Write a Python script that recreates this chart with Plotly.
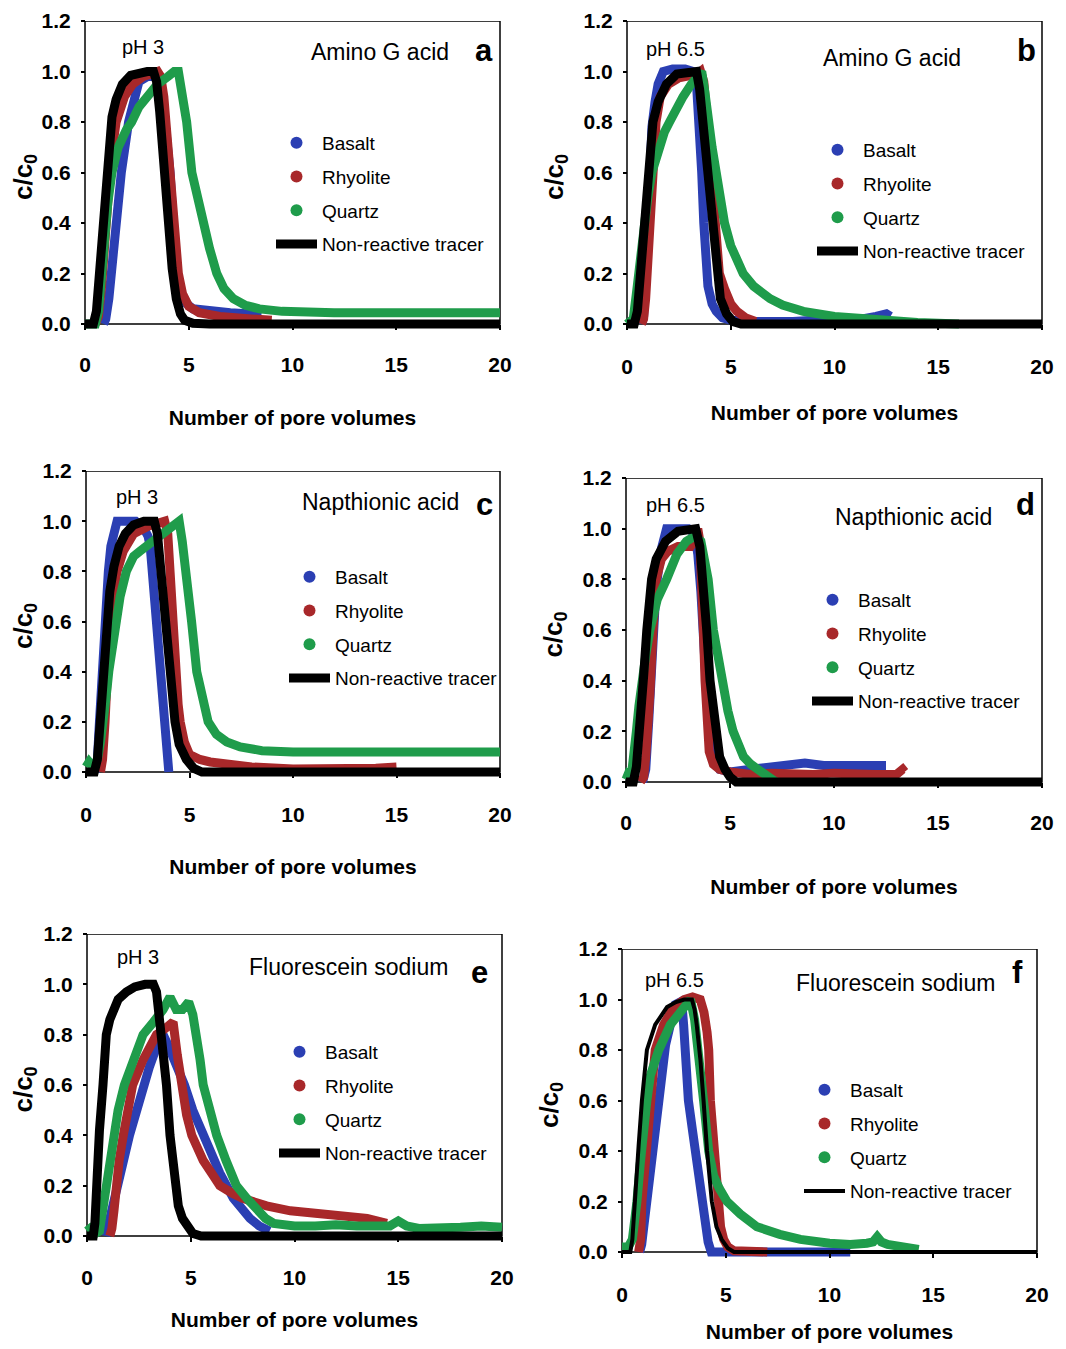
import plotly.graph_objects as go

# The page places the figure 8 px from the window's top-left corner.
OFF = 8
W, H = 1066 - OFF, 1349 - OFF

# ---------------- data ----------------
# Panel a : Amino G acid, pH 3
a_tracer_x = [0, 0.4, 0.55, 0.7, 0.85, 1.0, 1.15, 1.3, 1.5, 1.8, 2.2, 2.6, 3.0, 3.3, 3.45, 3.6, 3.8, 4.0, 4.2, 4.4, 4.6, 4.8, 5.2, 6, 20]
a_tracer_y = [0, 0, 0.05, 0.2, 0.42, 0.6, 0.72, 0.82, 0.89, 0.95, 0.985, 0.997, 1.0, 1.0, 0.96, 0.84, 0.62, 0.4, 0.22, 0.1, 0.04, 0.015, 0.003, 0, 0]
a_basalt_x = [0.9, 1.0, 1.15, 1.3, 1.5, 1.75, 2.1, 2.6, 3.0, 3.5, 3.7, 3.9, 4.1, 4.25, 4.4, 4.6, 4.9, 5.2, 6, 7, 8, 8.5]
a_basalt_y = [0, 0.02, 0.1, 0.25, 0.42, 0.6, 0.8, 0.96, 0.98, 0.98, 0.93, 0.8, 0.6, 0.4, 0.2, 0.12, 0.08, 0.06, 0.05, 0.045, 0.04, 0.035]
a_rhyolite_x = [0.5, 0.65, 0.8, 0.95, 1.1, 1.25, 1.5, 1.9, 2.3, 2.8, 3.2, 3.5, 3.65, 3.8, 3.95, 4.1, 4.3, 4.5, 4.7, 5.0, 5.5, 6.5, 8, 9]
a_rhyolite_y = [0, 0.03, 0.15, 0.35, 0.52, 0.65, 0.8, 0.9, 0.95, 0.98, 0.99, 1.0, 0.98, 0.9, 0.75, 0.6, 0.38, 0.2, 0.12, 0.07, 0.045, 0.03, 0.02, 0.015]
a_quartz_x = [0, 0.5, 0.65, 0.8, 0.95, 1.1, 1.3, 1.6, 2.0, 2.25, 2.6, 3.0, 3.5, 4.0, 4.3, 4.5, 4.7, 4.9, 5.15, 5.4, 5.7, 6.0, 6.35, 6.7, 7.15, 7.7, 8.4, 9.5, 12, 15, 18, 20]
a_quartz_y = [0, 0, 0.05, 0.2, 0.36, 0.48, 0.6, 0.7, 0.77, 0.8, 0.86, 0.9, 0.95, 0.98, 1.0, 1.0, 0.92, 0.8, 0.6, 0.5, 0.4, 0.3, 0.2, 0.14, 0.1, 0.075, 0.06, 0.05, 0.045, 0.045, 0.045, 0.045]

# Panel b : Amino G acid, pH 6.5
b_tracer_x = [0, 0.35, 0.5, 0.65, 0.8, 0.95, 1.1, 1.25, 1.5, 1.9, 2.4, 3.0, 3.35, 3.5, 3.65, 3.8, 3.95, 4.1, 4.3, 4.5, 4.8, 5.1, 5.5, 20]
b_tracer_y = [0, 0, 0.05, 0.2, 0.42, 0.6, 0.72, 0.8, 0.88, 0.95, 0.99, 1.0, 1.0, 0.93, 0.8, 0.66, 0.52, 0.38, 0.2, 0.1, 0.04, 0.01, 0, 0]
b_basalt_x = [0.7, 0.8, 0.9, 1.0, 1.1, 1.2, 1.35, 1.5, 1.75, 2.2, 2.8, 3.2, 3.35, 3.5, 3.6, 3.7, 3.8, 3.9, 4.1, 4.3, 4.6, 5.0, 6, 8, 10, 11, 12, 12.5, 12.7]
b_basalt_y = [0, 0.03, 0.2, 0.5, 0.65, 0.78, 0.88, 0.95, 1.0, 1.01, 1.01, 1.0, 0.95, 0.8, 0.6, 0.4, 0.25, 0.15, 0.08, 0.05, 0.025, 0.015, 0.01, 0.01, 0.02, 0.015, 0.03, 0.04, 0.03]
b_rhyolite_x = [0.7, 0.8, 0.9, 1.0, 1.1, 1.25, 1.4, 1.6, 2.0, 2.5, 3.0, 3.4, 3.55, 3.7, 3.85, 4.05, 4.25, 4.45, 4.7, 5.0, 5.3, 5.7, 6.2]
b_rhyolite_y = [0, 0.02, 0.1, 0.25, 0.4, 0.6, 0.8, 0.9, 0.95, 0.975, 0.98, 0.99, 1.0, 0.96, 0.82, 0.6, 0.38, 0.2, 0.14, 0.08, 0.05, 0.025, 0.01]
b_quartz_x = [0, 0.3, 0.45, 0.55, 0.7, 0.8, 1.0, 1.2, 1.5, 1.8, 2.05, 2.4, 2.7, 3.1, 3.4, 3.6, 3.75, 3.9, 4.1, 4.3, 4.5, 4.7, 5.0, 5.3, 5.6, 6.1, 6.5, 6.9, 7.5, 8.5, 10, 12, 14, 16]
b_quartz_y = [0, 0.02, 0.12, 0.2, 0.32, 0.4, 0.5, 0.6, 0.69, 0.76, 0.8, 0.86, 0.9, 0.95, 0.98, 1.0, 0.92, 0.8, 0.7, 0.6, 0.5, 0.4, 0.31, 0.25, 0.2, 0.15, 0.12, 0.1, 0.075, 0.05, 0.03, 0.015, 0.006, 0.0]

# Panel c : Napthionic acid, pH 3
c_tracer_x = [0, 0.4, 0.55, 0.7, 0.85, 1.0, 1.15, 1.35, 1.6, 1.9, 2.3, 2.8, 3.3, 3.45, 3.6, 3.8, 4.0, 4.15, 4.3, 4.5, 4.85, 5.2, 5.6, 20]
c_tracer_y = [0, 0, 0.05, 0.2, 0.42, 0.6, 0.72, 0.82, 0.9, 0.95, 0.985, 1.0, 1.0, 0.95, 0.82, 0.6, 0.42, 0.3, 0.2, 0.11, 0.05, 0.015, 0, 0]
c_basalt_x = [0.45, 0.55, 0.65, 0.75, 0.85, 0.92, 1.0, 1.08, 1.2, 1.35, 1.5, 2.0, 2.4, 2.8, 3.0, 3.1, 3.2, 3.35, 3.5, 3.65, 3.75, 3.85, 4.0]
c_basalt_y = [0, 0.05, 0.2, 0.38, 0.52, 0.6, 0.7, 0.8, 0.9, 0.96, 1.0, 1.0, 1.0, 0.97, 0.94, 0.9, 0.8, 0.6, 0.42, 0.27, 0.2, 0.1, 0.0]
c_rhyolite_x = [0.7, 0.8, 0.92, 1.05, 1.15, 1.3, 1.5, 1.8, 2.3, 3.0, 3.5, 3.8, 3.95, 4.05, 4.15, 4.3, 4.45, 4.55, 4.75, 5.0, 5.5, 6.0, 7.0, 8.0, 10, 12, 14, 15]
c_rhyolite_y = [0, 0.05, 0.2, 0.45, 0.6, 0.7, 0.8, 0.88, 0.95, 0.98, 0.99, 1.0, 0.95, 0.8, 0.6, 0.4, 0.27, 0.2, 0.12, 0.07, 0.05, 0.04, 0.03, 0.02, 0.012, 0.01, 0.015, 0.02]
c_quartz_x = [0, 0.15, 0.35, 0.55, 0.7, 0.85, 1.0, 1.1, 1.25, 1.4, 1.65, 1.95, 2.3, 2.6, 3.2, 3.8, 4.2, 4.5, 4.65, 4.85, 5.1, 5.35, 5.6, 5.9, 6.3, 6.8, 7.45, 8.5, 10, 12, 14, 16, 18, 20]
c_quartz_y = [0.02, 0.04, 0.02, 0.05, 0.12, 0.2, 0.32, 0.4, 0.5, 0.6, 0.7, 0.8, 0.86, 0.88, 0.92, 0.95, 0.98, 1.0, 0.92, 0.8, 0.6, 0.4, 0.3, 0.2, 0.15, 0.12, 0.1, 0.085, 0.08, 0.08, 0.08, 0.085, 0.085, 0.08]

# Panel d : Napthionic acid, pH 6.5
d_tracer_x = [0, 0.35, 0.5, 0.67, 0.85, 1.0, 1.12, 1.23, 1.45, 1.9, 2.5, 3.0, 3.35, 3.55, 3.72, 3.88, 4.04, 4.28, 4.5, 4.76, 5.0, 5.3, 20]
d_tracer_y = [0, 0, 0.06, 0.2, 0.42, 0.6, 0.72, 0.8, 0.88, 0.95, 0.99, 1.0, 1.0, 0.93, 0.8, 0.6, 0.4, 0.2, 0.1, 0.05, 0.02, 0, 0]
d_basalt_x = [0.8, 0.95, 1.1, 1.2, 1.3, 1.4, 1.5, 1.7, 1.95, 2.5, 3.0, 3.3, 3.45, 3.6, 3.7, 3.8, 3.95, 4.1, 4.3, 4.5, 5.0, 6.0, 7.0, 8.0, 8.6, 9.5, 10.5, 11.5, 12.3, 12.5]
d_basalt_y = [0, 0.05, 0.25, 0.45, 0.6, 0.7, 0.8, 0.92, 1.0, 1.0, 1.0, 0.98, 0.9, 0.75, 0.6, 0.4, 0.25, 0.15, 0.08, 0.05, 0.04, 0.05, 0.06, 0.065, 0.075, 0.065, 0.065, 0.065, 0.07, 0.065]
d_rhyolite_x = [0.7, 0.85, 0.95, 1.05, 1.15, 1.3, 1.45, 1.7, 2.0, 2.5, 3.1, 3.35, 3.45, 3.55, 3.65, 3.72, 3.8, 3.88, 4.0, 4.2, 4.5, 5.0, 6.0, 7.0, 8.0, 9.0, 10, 11, 12, 13, 13.3, 13.4]
d_rhyolite_y = [0, 0.02, 0.1, 0.2, 0.35, 0.6, 0.8, 0.88, 0.91, 0.93, 0.93, 0.96, 1.0, 0.95, 0.8, 0.6, 0.4, 0.2, 0.12, 0.07, 0.05, 0.04, 0.03, 0.035, 0.03, 0.03, 0.035, 0.03, 0.03, 0.03, 0.05, 0.04]
d_quartz_x = [0, 0.1, 0.25, 0.4, 0.5, 0.62, 0.75, 0.95, 1.15, 1.5, 1.95, 2.45, 2.9, 3.3, 3.6, 3.8, 3.95, 4.2, 4.4, 4.6, 4.9, 5.15, 5.4, 5.65, 6.0, 6.3, 6.6, 6.9, 7.2]
d_quartz_y = [0.01, 0.03, 0.02, 0.1, 0.2, 0.3, 0.4, 0.5, 0.6, 0.72, 0.8, 0.9, 0.95, 0.97, 0.95, 0.88, 0.8, 0.6, 0.5, 0.4, 0.28, 0.2, 0.14, 0.1, 0.07, 0.05, 0.03, 0.02, 0.0]

# Panel e : Fluorescein sodium, pH 3
e_tracer_x = [0, 0.3, 0.38, 0.45, 0.6, 0.77, 0.93, 1.1, 1.25, 1.5, 1.9, 2.3, 2.8, 3.2, 3.35, 3.45, 3.6, 3.83, 4.0, 4.23, 4.4, 4.6, 4.8, 5.1, 5.5, 20]
e_tracer_y = [0, 0, 0.05, 0.2, 0.42, 0.6, 0.8, 0.86, 0.9, 0.94, 0.97, 0.99, 1.0, 1.0, 0.97, 0.9, 0.78, 0.6, 0.4, 0.2, 0.12, 0.07, 0.04, 0.01, 0, 0]
e_basalt_x = [0.9, 1.1, 1.4, 1.7, 2.05, 2.4, 2.7, 3.0, 3.35, 3.67, 3.9, 4.23, 4.7, 5.1, 5.6, 6.0, 6.4, 7.05, 7.5, 7.85, 8.3, 8.8]
e_basalt_y = [0, 0.07, 0.2, 0.3, 0.4, 0.5, 0.6, 0.67, 0.75, 0.8, 0.76, 0.7, 0.6, 0.5, 0.4, 0.32, 0.25, 0.15, 0.1, 0.07, 0.04, 0.02]
e_rhyolite_x = [1.1, 1.2, 1.3, 1.4, 1.55, 1.75, 2.0, 2.2, 2.7, 3.0, 3.35, 3.7, 4.0, 4.15, 4.35, 4.55, 4.8, 5.05, 5.3, 5.6, 6.0, 6.4, 7.0, 7.5, 8.65, 9.8, 11, 11.9, 13.5, 14.45]
e_rhyolite_y = [0, 0.03, 0.1, 0.2, 0.3, 0.4, 0.52, 0.6, 0.7, 0.75, 0.8, 0.82, 0.84, 0.85, 0.72, 0.6, 0.48, 0.4, 0.35, 0.3, 0.25, 0.2, 0.17, 0.15, 0.12, 0.1, 0.09, 0.08, 0.07, 0.05]
e_quartz_x = [0, 0.15, 0.4, 0.6, 0.75, 0.93, 1.1, 1.25, 1.5, 1.8, 2.2, 2.7, 3.2, 3.67, 4.0, 4.3, 4.6, 4.9, 5.1, 5.28, 5.45, 5.6, 5.9, 6.25, 6.7, 7.2, 7.7, 8.2, 8.6, 9.0, 10, 11, 12, 13, 14, 14.6, 15.0, 15.4, 16, 17, 18, 19, 20]
e_quartz_y = [0.02, 0.03, 0.01, 0.02, 0.1, 0.2, 0.3, 0.4, 0.5, 0.6, 0.7, 0.8, 0.85, 0.9, 0.95, 0.9, 0.9, 0.93, 0.88, 0.8, 0.7, 0.6, 0.5, 0.4, 0.3, 0.2, 0.15, 0.1, 0.07, 0.05, 0.04, 0.04, 0.045, 0.04, 0.035, 0.04, 0.06, 0.04, 0.03, 0.03, 0.035, 0.04, 0.035]

# Panel f : Fluorescein sodium, pH 6.5
f_tracer_x = [0, 0.4, 0.5, 0.64, 0.8, 0.96, 1.2, 1.6, 2.17, 2.6, 3.0, 3.37, 3.5, 3.6, 3.78, 3.93, 4.1, 4.33, 4.55, 4.8, 5.1, 5.4, 20]
f_tracer_y = [0, 0, 0.05, 0.2, 0.42, 0.6, 0.8, 0.9, 0.97, 0.99, 1.0, 1.0, 0.96, 0.9, 0.76, 0.6, 0.4, 0.2, 0.1, 0.05, 0.015, 0, 0]
f_basalt_x = [0.85, 0.95, 1.05, 1.2, 1.45, 1.7, 1.93, 2.1, 2.33, 2.57, 2.8, 2.9, 2.97, 3.1, 3.2, 3.4, 3.6, 3.8, 4.0, 4.15, 4.3, 5, 6, 7, 8, 9, 10, 11]
f_basalt_y = [0, 0.03, 0.1, 0.2, 0.4, 0.6, 0.75, 0.82, 0.9, 0.98, 0.99, 0.97, 0.9, 0.72, 0.6, 0.48, 0.36, 0.22, 0.1, 0.04, 0.0, 0.0, 0.0, 0.0, 0.0, 0.0, 0.0, 0.0]
f_rhyolite_x = [0.8, 0.9, 0.96, 1.05, 1.2, 1.4, 1.6, 2.0, 2.5, 3.0, 3.4, 3.77, 3.95, 4.1, 4.18, 4.26, 4.42, 4.58, 4.75, 4.9, 5.1, 5.4, 6, 7]
f_rhyolite_y = [0, 0.05, 0.2, 0.3, 0.45, 0.65, 0.8, 0.9, 0.97, 1.0, 1.01, 1.0, 0.95, 0.87, 0.8, 0.6, 0.4, 0.2, 0.1, 0.05, 0.02, 0.005, 0.0, 0.0]
f_quartz_x = [0, 0.3, 0.5, 0.62, 0.72, 0.88, 1.04, 1.2, 1.37, 1.77, 2.33, 3.0, 3.3, 3.5, 3.7, 3.93, 4.18, 4.42, 4.7, 5.06, 5.7, 6.5, 7.6, 8.6, 10, 11, 11.8, 12.1, 12.3, 12.5, 12.8, 13.5, 14.3]
f_quartz_y = [0.02, 0.02, 0.05, 0.12, 0.2, 0.35, 0.5, 0.6, 0.7, 0.8, 0.9, 0.97, 1.0, 0.92, 0.8, 0.6, 0.4, 0.3, 0.25, 0.2, 0.15, 0.1, 0.07, 0.05, 0.035, 0.03, 0.035, 0.04, 0.06, 0.04, 0.03, 0.02, 0.01]

series_names = ["Basalt", "Rhyolite", "Quartz", "Non-reactive tracer"]
series_colors = ["#2b3fb3", "#a8282a", "#1f9c4b", "#000000"]
x_tick_vals = [0, 5, 10, 15, 20]
y_tick_vals = [0.0, 0.2, 0.4, 0.6, 0.8, 1.0, 1.2]
y_tick_text = ["0.0", "0.2", "0.4", "0.6", "0.8", "1.0", "1.2"]
compounds = ["Amino G acid", "Amino G acid", "Napthionic acid", "Napthionic acid",
             "Fluorescein sodium", "Fluorescein sodium"]
ph_labels = ["pH 3", "pH 6.5", "pH 3", "pH 6.5", "pH 3", "pH 6.5"]
panel_letters = ["a", "b", "c", "d", "e", "f"]

panel_data = [
    [(a_basalt_x, a_basalt_y), (a_rhyolite_x, a_rhyolite_y), (a_quartz_x, a_quartz_y), (a_tracer_x, a_tracer_y)],
    [(b_basalt_x, b_basalt_y), (b_rhyolite_x, b_rhyolite_y), (b_quartz_x, b_quartz_y), (b_tracer_x, b_tracer_y)],
    [(c_basalt_x, c_basalt_y), (c_rhyolite_x, c_rhyolite_y), (c_quartz_x, c_quartz_y), (c_tracer_x, c_tracer_y)],
    [(d_basalt_x, d_basalt_y), (d_rhyolite_x, d_rhyolite_y), (d_quartz_x, d_quartz_y), (d_tracer_x, d_tracer_y)],
    [(e_basalt_x, e_basalt_y), (e_rhyolite_x, e_rhyolite_y), (e_quartz_x, e_quartz_y), (e_tracer_x, e_tracer_y)],
    [(f_basalt_x, f_basalt_y), (f_rhyolite_x, f_rhyolite_y), (f_quartz_x, f_quartz_y), (f_tracer_x, f_tracer_y)],
]

# ---------------- layout geometry (window pixels) ----------------
# plot box: left (x=0), right (x=20), top (y=1.2), bottom (y=0)
boxes = [
    (85, 500, 21, 324),
    (627, 1042, 21, 324),
    (86, 500, 471, 772),
    (626, 1042, 478, 782),
    (87, 502, 934, 1236),
    (622, 1037, 949, 1252),
]
xlabel_y = [365, 367, 815, 823, 1278, 1295]
xtitle_y = [418, 413, 867, 887, 1320, 1332]
ph_pos = [(143, 47), (675, 49), (137, 497), (675, 505), (138, 957), (674, 980)]
comp_pos = [(380, 52), (892, 58), (380, 502), (913, 517), (348, 967), (895, 983)]
letter_pos = [(484, 50), (1026, 50), (484, 504), (1025, 504), (479, 972), (1017, 972)]
legend_row1 = [(322, 143), (863, 150), (335, 577), (858, 600), (325, 1052), (850, 1090)]
tracer_width = [9, 9, 9, 9, 9, 4]

SANS = "Liberation Sans, Arial, Helvetica, sans-serif"


def fx(px):
    return (px - OFF) / W


def fy(py):
    return 1 - (py - OFF) / H


fig = go.Figure()
layout = dict(width=W, height=H, margin=dict(l=0, r=0, t=0, b=0, autoexpand=False),
              paper_bgcolor="white", plot_bgcolor="white", showlegend=True)
annotations = []
shapes = []

XPAD = 0.25
YPAD = 0.035

for i in range(6):
    L, R, T, B = boxes[i]
    sx = (R - L) / 20.0
    sy = (B - T) / 1.2
    dl, dr = L - XPAD * sx, R + XPAD * sx
    dt, db = T, B + YPAD * sy
    xa = "xaxis" if i == 0 else f"xaxis{i+1}"
    ya = "yaxis" if i == 0 else f"yaxis{i+1}"
    xr = "x" if i == 0 else f"x{i+1}"
    yr = "y" if i == 0 else f"y{i+1}"
    lg = "legend" if i == 0 else f"legend{i+1}"

    layout[xa] = dict(domain=[fx(dl), fx(dr)], range=[-XPAD, 20 + XPAD], anchor="free",
                      position=fy(B), tickvals=x_tick_vals, ticks="outside", ticklen=5,
                      tickwidth=1.5, tickcolor="black", showgrid=False, zeroline=False,
                      showline=False, ticklabelstandoff=xlabel_y[i] - B - 24,
                      tickfont=dict(family=SANS, size=21, color="black", weight="bold"),
                      title=dict(text="Number of pore volumes", standoff=xtitle_y[i] - xlabel_y[i] - 18,
                                 font=dict(family=SANS, size=21, color="black", weight="bold")))
    layout[ya] = dict(domain=[fy(db), fy(dt)], range=[-YPAD, 1.2], anchor="free",
                      position=fx(L), tickvals=y_tick_vals, ticktext=y_tick_text,
                      ticks="outside", ticklen=4, tickwidth=1.5, tickcolor="black",
                      showgrid=False, zeroline=False, showline=False, ticklabelstandoff=6,
                      tickfont=dict(family=SANS, size=21, color="black", weight="bold"),
                      title=dict(text="c/c<sub>0</sub>", standoff=11,
                                 font=dict(family=SANS, size=26, color="black", weight="bold")))
    shapes.append(dict(type="rect", xref=xr, yref=yr, x0=0, x1=20, y0=0, y1=1.2,
                       line=dict(color="black", width=1.5), layer="below"))

    tx0, ty0 = legend_row1[i]
    layout[lg] = dict(x=fx(tx0 - 51), y=fy(ty0 - 19), xanchor="left", yanchor="top",
                      bgcolor="rgba(0,0,0,0)", borderwidth=0, tracegroupgap=6, itemwidth=41,
                      font=dict(family=SANS, size=19, color="black"), itemsizing="trace")

    for k in range(4):
        xs, ys = panel_data[i][k]
        grp = f"{lg}_{k}"
        if k < 3:
            fig.add_trace(go.Scatter(x=xs, y=ys, mode="lines", xaxis=xr, yaxis=yr,
                                     line=dict(color=series_colors[k], width=9),
                                     name=series_names[k], showlegend=False, hoverinfo="skip"))
            fig.add_trace(go.Scatter(x=[None], y=[None], mode="markers", xaxis=xr, yaxis=yr,
                                     marker=dict(color=series_colors[k], size=12),
                                     name=series_names[k], legend=lg, legendgroup=grp,
                                     showlegend=True))
        else:
            fig.add_trace(go.Scatter(x=xs, y=ys, mode="lines", xaxis=xr, yaxis=yr,
                                     line=dict(color="black", width=tracer_width[i]),
                                     name=series_names[k], legend=lg, legendgroup=grp,
                                     showlegend=True))

    px, py = ph_pos[i]
    annotations.append(dict(text=ph_labels[i], x=fx(px), y=fy(py), xref="paper", yref="paper",
                            showarrow=False, xanchor="center", yanchor="middle",
                            font=dict(family=SANS, size=20, color="black")))
    cx, cy = comp_pos[i]
    annotations.append(dict(text=compounds[i], x=fx(cx), y=fy(cy), xref="paper", yref="paper",
                            showarrow=False, xanchor="center", yanchor="middle",
                            font=dict(family=SANS, size=23, color="black")))
    lx, ly = letter_pos[i]
    annotations.append(dict(text=panel_letters[i], x=fx(lx), y=fy(ly), xref="paper", yref="paper",
                            showarrow=False, xanchor="center", yanchor="middle",
                            font=dict(family=SANS, size=31, color="black", weight="bold")))

layout["annotations"] = annotations
layout["shapes"] = shapes
fig.update_layout(**layout)
fig.write_html("out.html")
